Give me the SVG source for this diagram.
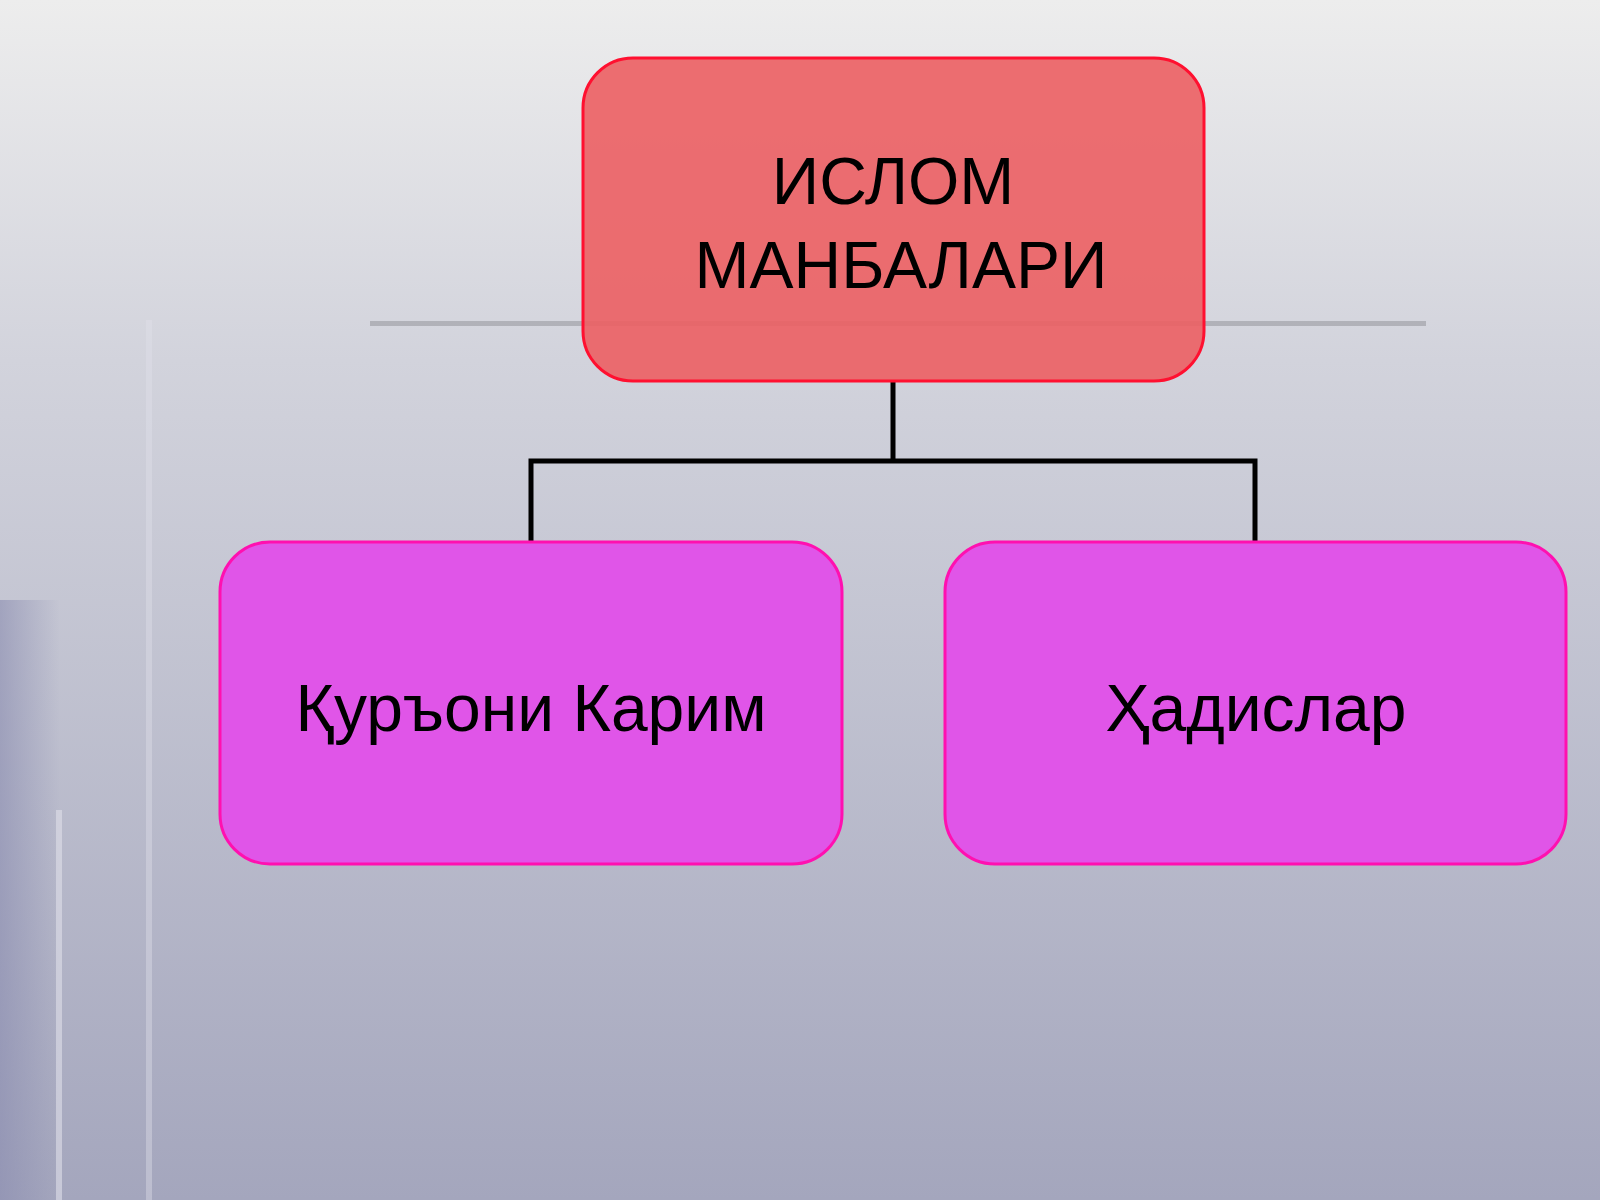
<svg xmlns="http://www.w3.org/2000/svg" width="1600" height="1200" viewBox="0 0 1600 1200">
<defs>
<linearGradient id="bg" x1="0" y1="0" x2="0" y2="1">
<stop offset="0" stop-color="#ededed"/>
<stop offset="0.3" stop-color="#d2d3dc"/>
<stop offset="1" stop-color="#a4a6bd"/>
</linearGradient>
<linearGradient id="lb" x1="0" y1="0" x2="1" y2="0">
<stop offset="0" stop-color="#8a8cb0" stop-opacity="0.6"/>
<stop offset="1" stop-color="#8a8cb0" stop-opacity="0"/>
</linearGradient>
<style>
.box{stroke-width:3}
.t{font-family:"Liberation Sans",Arial,sans-serif;font-size:66px;fill:#000;text-anchor:middle}
.c{fill:none;stroke:#000;stroke-width:5}
</style>
</defs>
<rect width="1600" height="1200" fill="url(#bg)"/>
<rect x="0" y="600" width="60" height="600" fill="url(#lb)"/>
<rect x="56" y="810" width="6" height="390" fill="#e0e0ea" opacity="0.6"/>
<rect x="146" y="320" width="6" height="880" fill="#e0e0ea" opacity="0.4"/>
<rect x="370" y="321" width="1056" height="5" fill="#9a9aa0" opacity="0.6"/>
<g id="connectors">
<path class="c" d="M893 381 V461 M531 542 V461 H1255 V542"/>
</g>
<g id="root">
<rect class="box" x="583" y="58" width="621" height="323" rx="50" fill="#ec5f63" fill-opacity="0.9" stroke="#ff1030"/>
<text class="t" x="893" y="204">ИСЛОМ</text>
<text class="t" x="901" y="288">МАНБАЛАРИ</text>
</g>
<g id="quran">
<rect class="box" x="220" y="542" width="622" height="322" rx="50" fill="#e055e8" stroke="#ff10b0"/>
<text class="t" x="531" y="731">Қуръони Карим</text>
</g>
<g id="hadis">
<rect class="box" x="945" y="542" width="621" height="322" rx="50" fill="#e055e8" stroke="#ff10b0"/>
<text class="t" x="1256" y="731">Ҳадислар</text>
</g>
</svg>
